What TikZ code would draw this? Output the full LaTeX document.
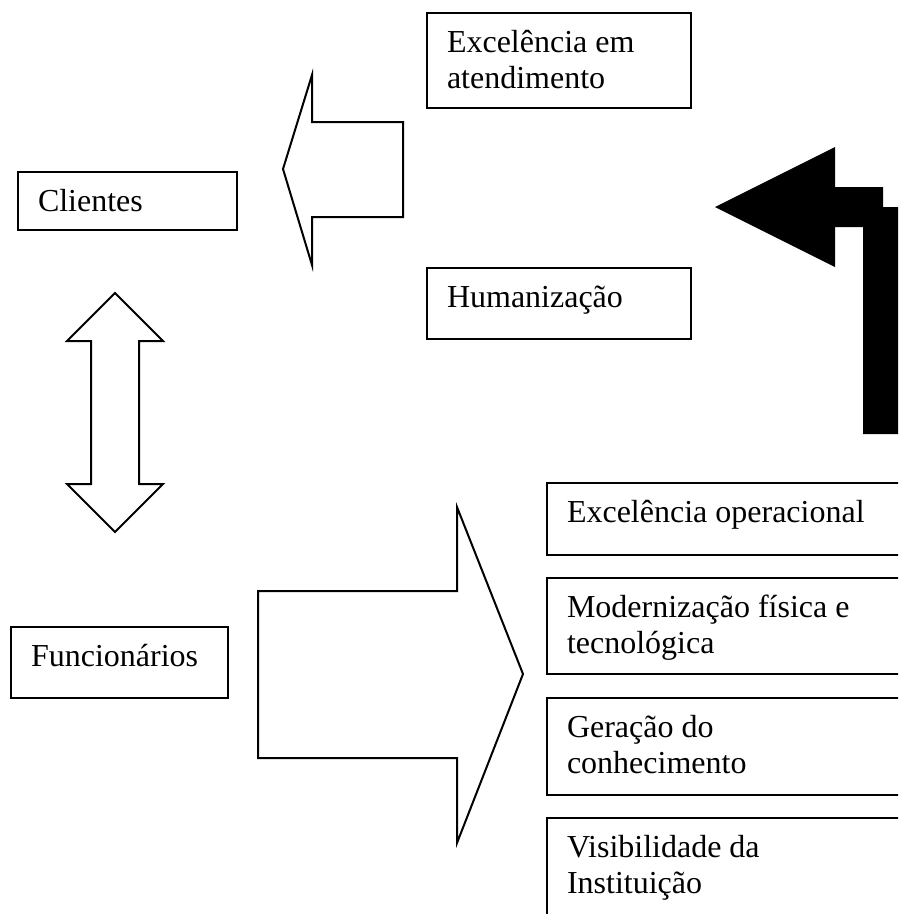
\documentclass[tikz,border=0pt]{standalone}
\usepackage{fontspec}
\setmainfont{Liberation Serif}
\usepackage{tikz}
\tikzset{caixa/.style={draw=black,line width=2pt,inner xsep=20pt,inner ysep=0pt,outer sep=0pt,anchor=north west,align=flush left,text height=39pt,font=\fontsize{32}{36.8}\selectfont}}
\tikzset{seta/.style={draw=black,line width=2pt,fill=white,line join=miter}}
\tikzset{setapreta/.style={fill=black,draw=none}}

\begin{document}
\begin{tikzpicture}[x=1pt, y=-1pt]
    \clip (0,0) rectangle (898,914);
    \fill[white] (0,0) rectangle (898,914);

    \draw[seta] (283,169) -- (312,75) -- (312,122) -- (403,122) -- (403,217) -- (312,217) -- (312,265) -- cycle;
    \draw[seta] (115,293) -- (163,341) -- (139,341) -- (139,484) -- (163,484) -- (115,532) -- (67,484) -- (91,484) -- (91,341) -- (67,341) -- cycle;
    \draw[seta] (523,674) -- (457,843) -- (457,758) -- (258,758) -- (258,591) -- (457,591) -- (457,507) -- cycle;
    \fill[setapreta] (715,207) -- (835,147) -- (835,187) -- (883,187) -- (883,207) -- (910,207) -- (910,434) -- (863,434) -- (863,227) -- (835,227) -- (835,267) -- cycle;

    \node[caixa, text width=179pt, text depth=19pt] (clientes) at (18,172) {Clientes};
    \node[caixa, text width=224pt, text depth=56pt] (atendimento) at (427,13) {Excelência em\\atendimento};
    \node[caixa, text width=224pt, text depth=32pt] (humanizacao) at (427,268) {Humanização};
    \node[caixa, text width=177pt, text depth=32pt] (funcionarios) at (11,627) {Funcionários};

    \node[caixa, text width=320pt, text depth=33pt] (operacional) at (547,483) {Excelência operacional};
    \node[caixa, text width=320pt, text depth=57pt] (modernizacao) at (547,578) {Modernização física e\\tecnológica};
    \node[caixa, text width=320pt, text depth=58pt] (conhecimento) at (547,698) {Geração do\\conhecimento};
    \node[caixa, text width=320pt, text depth=58pt] (visibilidade) at (547,818) {Visibilidade da\\Instituição};
\end{tikzpicture}
\end{document}
